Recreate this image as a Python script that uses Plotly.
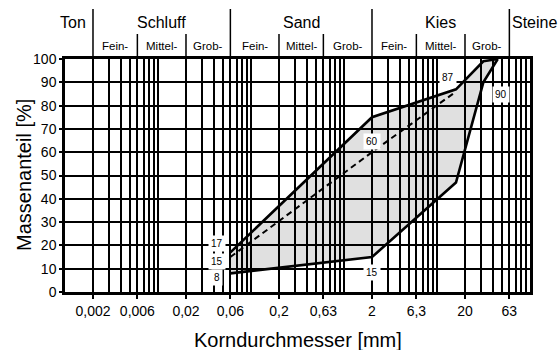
import math
import plotly.graph_objects as go

# Grading envelope: grain diameter [mm] vs. passing mass [%]
upper_d = [0.06, 2, 16, 31.5, 45]
upper_p = [17, 75, 87, 99, 100]
lower_d = [0.06, 2, 16, 31.5, 45]
lower_p = [8, 15, 47, 90, 100]
mid_d = [0.06, 2, 16]
mid_p = [15, 60, 86]

# Axis ticks
tick_vals = [0.002, 0.006, 0.02, 0.06, 0.2, 0.6, 2, 6, 20, 60]
tick_text = ["0,002", "0,006", "0,02", "0,06", "0,2", "0,63", "2", "6,3", "20", "63"]
minor_vals = [k * 10 ** e for e in range(-3, 2) for k in range(1, 10)] + [100]

# Soil classes (DIN 4022 style header)
main_names = ["Ton", "Schluff", "Sand", "Kies", "Steine"]
main_bounds = [0.001, 0.002, 0.06, 2, 60, 100]
sub_names = ["Fein-", "Mittel-", "Grob-"]
sub_bounds = [0.002, 0.006, 0.02, 0.06, 0.2, 0.6, 2, 6, 20, 60]

FONT = "Liberation Sans, Arial, sans-serif"
X0, X1 = -3, 2
W, H = 560, 350
M_L, M_R, M_T, M_B = 65, 30, 59, 58
PLOT_W = W - M_L - M_R
PLOT_H = H - M_T - M_B


def xp(v):
    return (math.log10(v) - X0) / (X1 - X0)


fig = go.Figure()

# shaded band between the two limit curves
fig.add_trace(go.Scatter(
    x=upper_d + lower_d[::-1], y=upper_p + lower_p[::-1],
    fill="toself", fillcolor="rgba(0,0,0,0.12)",
    line=dict(width=0), mode="lines", hoverinfo="skip", showlegend=False))

fig.add_trace(go.Scatter(x=upper_d, y=upper_p, mode="lines",
                         line=dict(color="black", width=2.6), showlegend=False))
fig.add_trace(go.Scatter(x=lower_d, y=lower_p, mode="lines",
                         line=dict(color="black", width=2.6), showlegend=False))
fig.add_trace(go.Scatter(x=mid_d, y=mid_p, mode="lines",
                         line=dict(color="black", width=2, dash="6px,4px"),
                         showlegend=False))

# value labels
labels = [
    (upper_d[0], upper_p[0], -13, 9),
    (mid_d[0], mid_p[0], -13, -4),
    (lower_d[0], lower_p[0], -13, -4),
    (mid_d[1], mid_p[1], 0, 11),
    (lower_d[1], lower_p[1], 0, -15),
    (upper_d[2], upper_p[2], -8, 12),
    (lower_d[3], lower_p[3], 18, -12),
]
for d, p, dx, dy in labels:
    fig.add_annotation(x=math.log10(d), y=p, xref="x", yref="y", text=str(p),
                       showarrow=False, xshift=dx, yshift=dy,
                       xanchor="center", yanchor="middle",
                       bgcolor="white", borderpad=2,
                       font=dict(family=FONT, size=10, color="black"))

# header: class separators and names
row1_top = 1 + 50 / PLOT_H
row2_top = 1 + 25 / PLOT_H
shapes = []
for b in main_bounds[1:-1]:
    shapes.append(dict(type="line", xref="paper", yref="paper",
                       x0=xp(b), x1=xp(b), y0=1, y1=row1_top,
                       line=dict(color="black", width=1.5)))
for b in sub_bounds:
    if b in main_bounds:
        continue
    shapes.append(dict(type="line", xref="paper", yref="paper",
                       x0=xp(b), x1=xp(b), y0=1, y1=row2_top,
                       line=dict(color="black", width=1.5)))

row1_y = 1 + 37 / PLOT_H
row2_y = 1 + 13 / PLOT_H
for i, name in enumerate(main_names):
    lo, hi = main_bounds[i], main_bounds[i + 1]
    if name == "Steine":
        fig.add_annotation(x=xp(lo), y=row1_y, xref="paper", yref="paper",
                           text=name, showarrow=False, xanchor="left",
                           yanchor="middle", xshift=1,
                           font=dict(family=FONT, size=16, color="black"))
    else:
        shift = -6 if name == "Ton" else 0
        fig.add_annotation(x=(xp(lo) + xp(hi)) / 2, y=row1_y, xref="paper",
                           yref="paper", text=name, showarrow=False,
                           xanchor="center", yanchor="middle", xshift=shift,
                           font=dict(family=FONT, size=16, color="black"))

for j in range(len(sub_bounds) - 1):
    lo, hi = sub_bounds[j], sub_bounds[j + 1]
    fig.add_annotation(x=(xp(lo) + xp(hi)) / 2, y=row2_y, xref="paper",
                       yref="paper", text=sub_names[j % 3], showarrow=False,
                       xanchor="center", yanchor="middle",
                       font=dict(family=FONT, size=11.5, color="black"))

# axis titles
fig.add_annotation(x=0.5, y=-47.5 / PLOT_H, xref="paper", yref="paper",
                   text="Korndurchmesser [mm]", showarrow=False,
                   xanchor="center", yanchor="middle",
                   font=dict(family=FONT, size=20, color="black"))
fig.add_annotation(x=-41.5 / PLOT_W, y=0.5, xref="paper", yref="paper",
                   text="Massenanteil [%]", showarrow=False, textangle=-90,
                   xanchor="center", yanchor="middle",
                   font=dict(family=FONT, size=20, color="black"))

fig.update_layout(
    width=W, height=H,
    margin=dict(l=M_L, r=M_R, t=M_T, b=M_B),
    paper_bgcolor="white", plot_bgcolor="white",
    font=dict(family=FONT, color="black"),
    shapes=shapes,
    xaxis=dict(
        type="log", range=[X0, X1],
        tickmode="array", tickvals=tick_vals, ticktext=tick_text,
        tickfont=dict(size=14),
        showgrid=True, gridcolor="black", gridwidth=2,
        ticks="outside", ticklen=4, tickwidth=2, tickcolor="black",
        showline=True, linecolor="black", linewidth=2.5, mirror=True,
        minor=dict(tickmode="array", tickvals=minor_vals, showgrid=True,
                   gridcolor="black", gridwidth=1.5, ticks=""),
        zeroline=False,
    ),
    yaxis=dict(
        range=[0, 100], dtick=10, tick0=0,
        tickfont=dict(size=14),
        showgrid=True, gridcolor="black", gridwidth=2,
        ticks="outside", ticklen=3, tickwidth=2, tickcolor="black",
        showline=True, linecolor="black", linewidth=2.5, mirror=True,
        zeroline=False,
    ),
)

fig.write_html("out.html")
